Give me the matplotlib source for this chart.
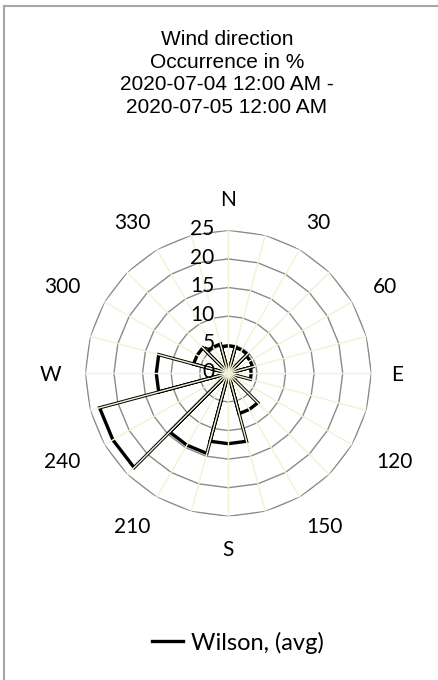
import matplotlib
matplotlib.use('Agg')
import matplotlib.pyplot as plt
import numpy as np
from matplotlib.lines import Line2D

# wind direction bins (bearing, degrees) and occurrence in %
directions = [0, 30, 60, 90, 120, 150, 180, 210, 240, 270, 300, 330]
dir_labels = ['N', '30', '60', 'E', '120', '150', 'S', '210', '240', 'W', '300', '330']
occurrence = [4.8, 4.7, 4.4, 4.0, 1.5, 7.3, 12.3, 14.5, 23.3, 12.6, 6.3, 5.3]
r_ticks = [0, 5, 10, 15, 20, 25]
title_lines = ['Wind direction', 'Occurrence in %',
               '2020-07-04 12:00 AM -', '2020-07-05 12:00 AM']
series_name = 'Wilson, (avg)'

LABEL_FONT = 'Lato'
TITLE_FONT = 'Liberation Sans'
BEIGE = '#f2f2d4'
RING = '#8a8a8a'

fig = plt.figure(figsize=(4.38, 6.80), dpi=100)
ax = fig.add_axes([0.1948, 0.2407, 0.653, 0.4206], projection='polar')
ax.set_theta_zero_location('N')
ax.set_theta_direction(-1)
ax.set_ylim(0, 25)
ax.grid(False)
ax.set_xticks([])
ax.set_yticks([])
ax.spines['polar'].set_visible(False)
ax.patch.set_alpha(0)

# polygon rings, 15 degree steps
ring_t = np.deg2rad(np.arange(0, 361, 15))
for r in r_ticks[1:]:
    ax.plot(ring_t, [r] * len(ring_t), color=RING, lw=1.0, zorder=1)

# data: one wedge per bin, drawn from the centre
half = 15
th, rr = [], []
for d, v in zip(directions, occurrence):
    th += [d - half, d - half, d, d + half, d + half]
    rr += [0, v, v, v, 0]
ax.plot(np.deg2rad(th), rr, color='black', lw=2.4, zorder=2,
        solid_joinstyle='miter', label=series_name)

# spokes on top
for t in np.arange(0, 360, 15):
    ax.plot([np.deg2rad(t)] * 2, [0, 25], color=BEIGE, lw=1.0, zorder=3)

# direction labels, pushed outward by their size
R0 = 27.5
labs = []
for d, lab in zip(directions, dir_labels):
    t = ax.annotate(lab, xy=(np.deg2rad(d), R0), xytext=(0, 0),
                    textcoords='offset pixels', ha='center', va='center',
                    fontsize=15, family=LABEL_FONT, zorder=5,
                    annotation_clip=False)
    labs.append((d, t))
renderer = fig.canvas.get_renderer()
for d, t in labs:
    bb = t.get_window_extent(renderer)
    a = np.deg2rad(d)
    t.xyann = (np.sin(a) * bb.width * 0.95,
               np.cos(a) * bb.height * 0.9 - 1.5)

# radial value labels along the north spoke
for r in r_ticks:
    ax.annotate(str(r), xy=(0, r), xytext=(-10, 1), textcoords='offset points',
                ha='right', va='center', fontsize=15, family=LABEL_FONT,
                zorder=5, annotation_clip=False)

fig.text(0.518, 0.892, '\n'.join(title_lines), ha='center', va='center',
         fontsize=15, family=TITLE_FONT, linespacing=1.25)

fig.legend(loc='center', bbox_to_anchor=(0.543, 0.055), frameon=False,
           prop={'family': LABEL_FONT, 'size': 17}, handlelength=1.3,
           handletextpad=0.35)

# frame (left and top edges only are visible in the original)
fig.add_artist(Line2D([3.5 / 438, 3.5 / 438], [0, 1 - 5.5 / 680],
                      transform=fig.transFigure, color='#a6a6a6', lw=1.5))
fig.add_artist(Line2D([3.5 / 438, 1], [1 - 5.5 / 680, 1 - 5.5 / 680],
                      transform=fig.transFigure, color='#a6a6a6', lw=1.5))

plt.savefig('out.png', dpi=100)
